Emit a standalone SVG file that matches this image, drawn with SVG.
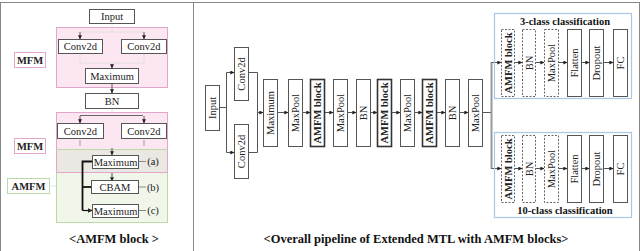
<svg xmlns="http://www.w3.org/2000/svg" width="640" height="251" viewBox="0 0 640 251">
<defs>
<marker id="ah" viewBox="0 0 6 6" refX="5.5" refY="3" markerWidth="4" markerHeight="4" orient="auto"><path d="M0,0 L6,3 L0,6 z" fill="#222"/></marker>
<style>
.box{fill:#fff;stroke:#555;stroke-width:1}
.bold{fill:#fff;stroke:#333;stroke-width:1.6}
.dash{fill:#fff;stroke:#666;stroke-width:1;stroke-dasharray:2,1.5}
.t{font-family:"Liberation Serif",serif;font-size:10.5px;fill:#222;text-anchor:middle;dominant-baseline:central}
.b{font-weight:bold}
.ln{fill:none;stroke:#555;stroke-width:1}
.faint{fill:none;stroke:#ddd;stroke-width:0.8}
.ttl{font-family:"Liberation Serif",serif;font-size:12.5px;font-weight:bold;fill:#111;text-anchor:middle}
.hd{font-family:"Liberation Serif",serif;font-size:10.5px;font-weight:bold;fill:#111;text-anchor:middle}
</style>
</defs>
<rect x="0.5" y="2.5" width="639" height="249" fill="#fff" stroke="#888"/>
<line x1="193.5" y1="3" x2="193.5" y2="251" stroke="#888"/>

<!-- left panel regions -->
<rect x="56.5" y="27.5" width="111" height="60" fill="#fbe6f1" stroke="#e2a6cb"/>
<rect x="56.5" y="149.5" width="111" height="73" fill="#f0f6ea" stroke="#bcdaa6"/>
<rect x="56.5" y="112.5" width="111" height="60" fill="#fbe6f1" stroke="#e2a6cb"/>
<rect x="57" y="150" width="110" height="22" fill="#e9e8e3"/>
<line x1="56.5" y1="149.5" x2="167.5" y2="149.5" stroke="#bcdaa6"/>

<g id="mfm1-label"><rect x="14.5" y="52.5" width="31" height="15" fill="#fff" stroke="#e2a6cb"/><text class="t b" x="30" y="60" font-size="10">MFM</text></g>
<g id="mfm2-label"><rect x="14.5" y="138.5" width="31" height="15" fill="#fff" stroke="#e2a6cb"/><text class="t b" x="30" y="146" font-size="10">MFM</text></g>
<g id="amfm-label"><rect x="7.5" y="178.5" width="42" height="15" fill="#fff" stroke="#bcdaa6"/><text class="t b" x="28.5" y="186" font-size="10">AMFM</text></g>

<g id="left-connectors">
<line class="faint" x1="49" y1="186" x2="56" y2="186"/>
<line class="faint" x1="112" y1="23" x2="112" y2="32"/>
<line class="faint" x1="80" y1="32" x2="144" y2="32"/>
<line class="ln" x1="80" y1="32" x2="80" y2="39" stroke="#ccc" marker-end="url(#ah)"/>
<line class="ln" x1="144" y1="32" x2="144" y2="39" stroke="#ccc" marker-end="url(#ah)"/>
<path class="faint" d="M80,53 V63 H144 V53 M112,63 V68"/>
<line class="ln" x1="112" y1="64" x2="112" y2="68" stroke="#ccc" marker-end="url(#ah)"/>
<line class="ln" x1="112" y1="84" x2="112" y2="93" stroke="#ccc" marker-end="url(#ah)"/>
<line class="faint" x1="112" y1="108" x2="112" y2="115"/>
<line x1="80" y1="115.5" x2="143" y2="115.5" stroke="#666" stroke-width="1"/>
<line class="ln" x1="80" y1="116" x2="80" y2="123" stroke="#ccc" marker-end="url(#ah)"/>
<line class="ln" x1="144" y1="116" x2="144" y2="123" stroke="#ccc" marker-end="url(#ah)"/>
<line x1="80" y1="140" x2="80" y2="146" stroke="#999"/>
<line x1="144" y1="140" x2="144" y2="146" stroke="#999"/>
<line class="ln" x1="112" y1="148" x2="112" y2="155" stroke="#ccc" marker-end="url(#ah)"/>
<line class="ln" x1="112" y1="173" x2="112" y2="181" stroke="#ccc" marker-end="url(#ah)"/>
<path d="M92,161.5 H82.5 V210.5" fill="none" stroke="#111" stroke-width="1.8"/>
<line x1="82.5" y1="187" x2="91" y2="187" stroke="#111" stroke-width="1.8"/>
<line x1="82.5" y1="210.5" x2="92" y2="210.5" stroke="#111" stroke-width="1.2" marker-end="url(#ah)"/>
<line x1="138" y1="161.5" x2="146" y2="161.5" stroke="#888"/>
<line x1="138" y1="187" x2="146" y2="187" stroke="#888"/>
<line x1="138" y1="210.5" x2="146" y2="210.5" stroke="#888"/>
</g>

<g id="l-input"><rect class="box" x="89.5" y="9.5" width="45" height="14"/><text class="t" x="112" y="16.5">Input</text></g>
<g id="l-conv1"><rect class="box" x="58.5" y="39.5" width="44" height="14"/><text class="t" x="80.5" y="46.5">Conv2d</text></g>
<g id="l-conv2"><rect class="box" x="121.5" y="39.5" width="45" height="14"/><text class="t" x="144" y="46.5">Conv2d</text></g>
<g id="l-max1"><rect class="box" x="85.5" y="68.5" width="53" height="15"/><text class="t" x="112" y="76">Maximum</text></g>
<g id="l-bn"><rect class="box" x="85.5" y="93.5" width="53" height="15"/><text class="t" x="112" y="101">BN</text></g>
<g id="l-conv3"><rect class="box" x="57.5" y="123.5" width="46" height="15"/><text class="t" x="80.5" y="131">Conv2d</text></g>
<g id="l-conv4"><rect class="box" x="121.5" y="123.5" width="45" height="15"/><text class="t" x="144" y="131">Conv2d</text></g>
<g id="l-max-a"><rect class="box" x="92.5" y="155.5" width="46" height="13"/><text class="t" x="115.5" y="162">Maximum</text></g>
<g id="l-cbam"><rect class="box" x="91.5" y="180.5" width="47" height="13"/><text class="t" x="115" y="187">CBAM</text></g>
<g id="l-max-c"><rect class="box" x="92.5" y="204.5" width="46" height="13"/><text class="t" x="115.5" y="211">Maximum</text></g>
<text class="t" x="153" y="161.5" font-size="10">(a)</text>
<text class="t" x="153" y="187" font-size="10">(b)</text>
<text class="t" x="153" y="210.5" font-size="10">(c)</text>
<text class="ttl" x="114" y="243">&lt;AMFM block &gt;</text>

<!-- right panel -->
<g id="connectors">
<line class="ln" x1="219" y1="107.5" x2="226.5" y2="107.5"/>
<path class="ln" d="M234,72.5 H226.5 V152.5 H234"/>
<line class="ln" x1="230" y1="72.5" x2="234" y2="72.5" marker-end="url(#ah)"/>
<line class="ln" x1="230" y1="152.5" x2="234" y2="152.5" marker-end="url(#ah)"/>
<path class="ln" d="M248,72.5 H257.5 V152.5 H248"/>
<line class="ln" x1="257.5" y1="112.5" x2="263" y2="112.5" marker-end="url(#ah)"/>
<line class="ln" x1="278" y1="112.5" x2="288" y2="112.5" marker-end="url(#ah)"/>
<line class="ln" x1="302" y1="112.5" x2="310" y2="112.5" marker-end="url(#ah)"/>
<line class="ln" x1="324" y1="112.5" x2="333" y2="112.5" marker-end="url(#ah)"/>
<line class="ln" x1="347" y1="112.5" x2="356" y2="112.5" marker-end="url(#ah)"/>
<line class="ln" x1="370" y1="112.5" x2="377" y2="112.5" marker-end="url(#ah)"/>
<line class="ln" x1="391" y1="112.5" x2="400" y2="112.5" marker-end="url(#ah)"/>
<line class="ln" x1="414" y1="112.5" x2="422" y2="112.5" marker-end="url(#ah)"/>
<line class="ln" x1="437" y1="112.5" x2="445" y2="112.5" marker-end="url(#ah)"/>
<line class="ln" x1="459" y1="112.5" x2="468" y2="112.5" marker-end="url(#ah)"/>
<line class="ln" x1="482" y1="112.5" x2="491" y2="112.5" stroke="#999"/>
<line x1="491.5" y1="62" x2="491.5" y2="169" stroke="#999" stroke-width="2"/>
<line class="ln" x1="491.5" y1="62.5" x2="501" y2="62.5" marker-end="url(#ah)"/>
<line class="ln" x1="491.5" y1="168.5" x2="501" y2="168.5" marker-end="url(#ah)"/>
<line class="ln" x1="515" y1="62.5" x2="522" y2="62.5" marker-end="url(#ah)"/>
<line class="ln" x1="536" y1="62.5" x2="544" y2="62.5" marker-end="url(#ah)"/>
<line class="ln" x1="559" y1="62.5" x2="567" y2="62.5" marker-end="url(#ah)"/>
<line class="ln" x1="581" y1="62.5" x2="589" y2="62.5" marker-end="url(#ah)"/>
<line class="ln" x1="603" y1="62.5" x2="613" y2="62.5" marker-end="url(#ah)"/>
<line class="ln" x1="515" y1="168.5" x2="522" y2="168.5" marker-end="url(#ah)"/>
<line class="ln" x1="536" y1="168.5" x2="544" y2="168.5" marker-end="url(#ah)"/>
<line class="ln" x1="559" y1="168.5" x2="567" y2="168.5" marker-end="url(#ah)"/>
<line class="ln" x1="581" y1="168.5" x2="589" y2="168.5" marker-end="url(#ah)"/>
<line class="ln" x1="603" y1="168.5" x2="613" y2="168.5" marker-end="url(#ah)"/>
</g>

<g id="p-input"><rect class="box" x="205.5" y="85.5" width="14" height="45"/><text class="t" transform="translate(212.5,108) rotate(-90)">Input</text></g>
<g id="p-conv1"><rect class="box" x="234.5" y="47.5" width="14" height="53"/><text class="t" transform="translate(241.5,74) rotate(-90)">Conv2d</text></g>
<g id="p-conv2"><rect class="box" x="234.5" y="124.5" width="14" height="54"/><text class="t" transform="translate(241.5,151.5) rotate(-90)">Conv2d</text></g>
<g id="p-max"><rect class="box" x="263.5" y="79.5" width="14" height="67"/><text class="t" transform="translate(270.5,113) rotate(-90)">Maximum</text></g>
<g id="p-pool1"><rect class="box" x="288.5" y="79.5" width="14" height="67"/><text class="t" transform="translate(295.5,113) rotate(-90)">MaxPool</text></g>
<g id="p-amfm1"><rect class="bold" x="310.5" y="79.5" width="14" height="67"/><text class="t b" transform="translate(317.5,113) rotate(-90)">AMFM block</text></g>
<g id="p-pool2"><rect class="box" x="333.5" y="79.5" width="14" height="67"/><text class="t" transform="translate(340.5,113) rotate(-90)">MaxPool</text></g>
<g id="p-bn1"><rect class="box" x="356.5" y="79.5" width="14" height="67"/><text class="t" transform="translate(363.5,113) rotate(-90)">BN</text></g>
<g id="p-amfm2"><rect class="bold" x="377.5" y="79.5" width="14" height="67"/><text class="t b" transform="translate(384.5,113) rotate(-90)">AMFM block</text></g>
<g id="p-pool3"><rect class="box" x="400.5" y="79.5" width="14" height="67"/><text class="t" transform="translate(407.5,113) rotate(-90)">MaxPool</text></g>
<g id="p-amfm3"><rect class="bold" x="422.5" y="79.5" width="14" height="67"/><text class="t b" transform="translate(429.5,113) rotate(-90)">AMFM block</text></g>
<g id="p-bn2"><rect class="box" x="445.5" y="79.5" width="14" height="67"/><text class="t" transform="translate(452.5,113) rotate(-90)">BN</text></g>
<g id="p-pool4"><rect class="box" x="468.5" y="79.5" width="14" height="67"/><text class="t" transform="translate(475.5,113) rotate(-90)">MaxPool</text></g>

<g id="head3">
<rect x="494.5" y="13.5" width="137" height="85" fill="none" stroke="#a7c8e8" stroke-width="1.2"/>
<text class="hd" x="565" y="25">3-class classification</text>
<rect class="dash" x="501.5" y="29.5" width="13" height="67"/><text class="t b" transform="translate(508,63) rotate(-90)">AMFM block</text>
<rect class="dash" x="522.5" y="29.5" width="13" height="67"/><text class="t" transform="translate(529,63) rotate(-90)">BN</text>
<rect class="dash" x="544.5" y="29.5" width="14" height="67"/><text class="t" transform="translate(551.5,63) rotate(-90)">MaxPool</text>
<rect class="box" x="567.5" y="29.5" width="14" height="67"/><text class="t" transform="translate(574.5,63) rotate(-90)">Flatten</text>
<rect class="box" x="589.5" y="29.5" width="14" height="67"/><text class="t" transform="translate(596.5,63) rotate(-90)">Dropout</text>
<rect class="box" x="613.5" y="29.5" width="14" height="67"/><text class="t" transform="translate(620.5,63) rotate(-90)">FC</text>
</g>
<g id="head10">
<rect x="494.5" y="132.5" width="137" height="85" fill="none" stroke="#a7c8e8" stroke-width="1.2"/>
<text class="hd" x="565" y="214">10-class classification</text>
<rect class="dash" x="501.5" y="135.5" width="13" height="67"/><text class="t b" transform="translate(508,169) rotate(-90)">AMFM block</text>
<rect class="dash" x="522.5" y="135.5" width="13" height="67"/><text class="t" transform="translate(529,169) rotate(-90)">BN</text>
<rect class="dash" x="544.5" y="135.5" width="14" height="67"/><text class="t" transform="translate(551.5,169) rotate(-90)">MaxPool</text>
<rect class="box" x="567.5" y="135.5" width="14" height="67"/><text class="t" transform="translate(574.5,169) rotate(-90)">Flatten</text>
<rect class="box" x="589.5" y="135.5" width="14" height="67"/><text class="t" transform="translate(596.5,169) rotate(-90)">Dropout</text>
<rect class="box" x="613.5" y="135.5" width="14" height="67"/><text class="t" transform="translate(620.5,169) rotate(-90)">FC</text>
</g>
<text class="ttl" x="416" y="243">&lt;Overall pipeline of Extended MTL with AMFM blocks&gt;</text>
</svg>
